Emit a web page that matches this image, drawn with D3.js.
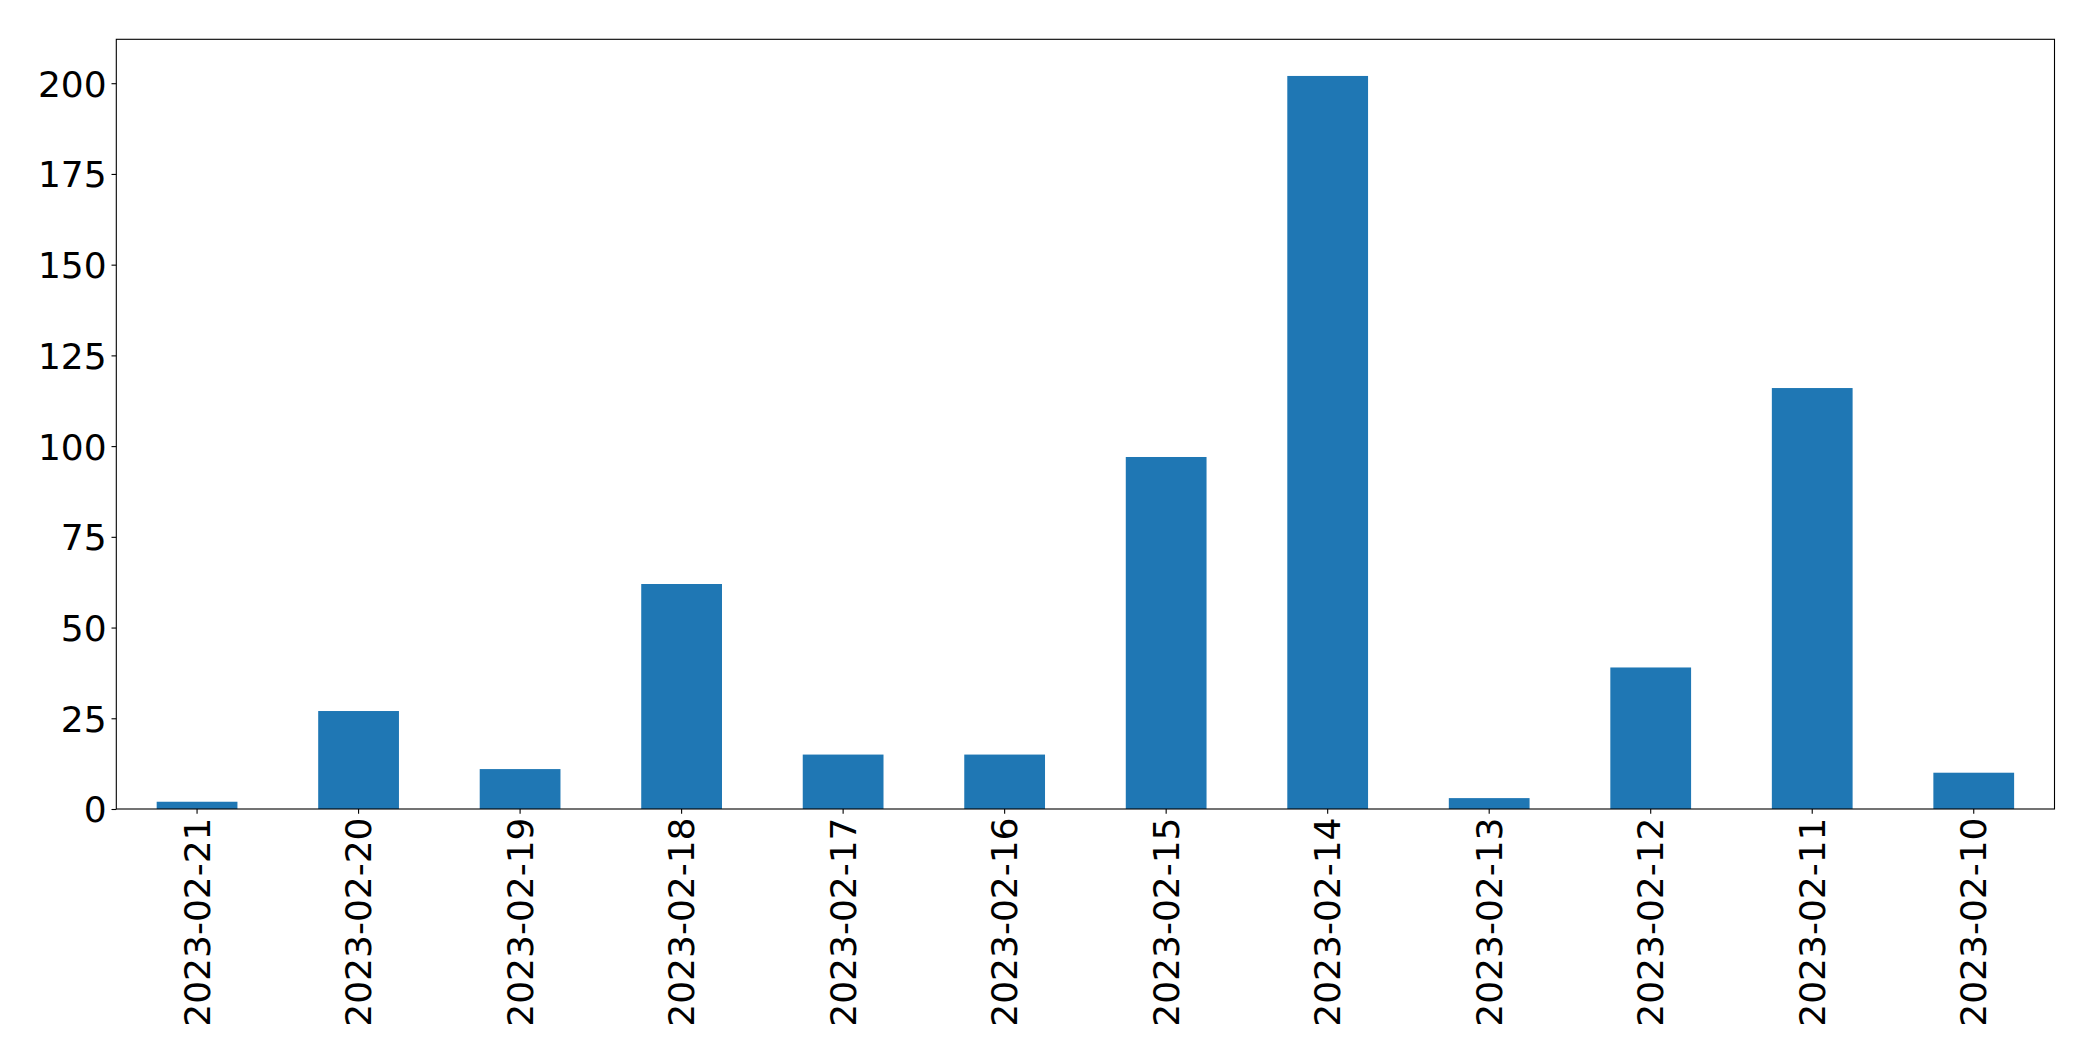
<!DOCTYPE html>
<html>
<head>
<meta charset="utf-8">
<script src="https://cdn.jsdelivr.net/npm/d3@7"></script>
<style>
  html, body { margin: 0; padding: 0; background: #fff; }
  svg { display: block; }
  text { font-family: "DejaVu Sans", sans-serif; }
</style>
</head>
<body>
<script>
const categories = ["2023-02-21","2023-02-20","2023-02-19","2023-02-18","2023-02-17","2023-02-16","2023-02-15","2023-02-14","2023-02-13","2023-02-12","2023-02-11","2023-02-10"];
const values = [2, 27, 11, 62, 15, 15, 97, 202, 3, 39, 116, 10];
const yTicks = [0, 25, 50, 75, 100, 125, 150, 175, 200];

const W = 2093, H = 1061;
const mLeft = 116.3, mRight = 2054.5, mTop = 39.3, mBottom = 809;
const fontSize = 36;

const svg = d3.select("body").append("svg").attr("width", W).attr("height", H);

const yMax = d3.max(values) * 1.05;
const y = d3.scaleLinear().domain([0, yMax]).range([mBottom, mTop]);
const x = d3.scaleBand().domain(categories).range([mLeft, mRight]).paddingInner(0.5).paddingOuter(0.25);

svg.append("g").selectAll("rect").data(values).join("rect")
  .attr("x", (d, i) => x(categories[i]))
  .attr("width", x.bandwidth())
  .attr("y", d => y(d))
  .attr("height", d => mBottom - y(d))
  .attr("fill", "#1f77b4");

// Y axis
const yAxis = d3.axisLeft(y).tickValues(yTicks).tickSize(4.8).tickPadding(4.9);
const gy = svg.append("g").attr("transform", `translate(${mLeft},0)`).call(yAxis);
gy.select(".domain").remove();
gy.selectAll(".tick line").attr("stroke", "#000").attr("stroke-width", 1.1);
gy.selectAll(".tick text").attr("font-size", fontSize).attr("fill", "#000")
  .attr("font-family", "DejaVu Sans").attr("dy", "0.36em");

// X axis
const xAxis = d3.axisBottom(x).tickSize(4.8).tickPadding(0);
const gx = svg.append("g").attr("transform", `translate(0,${mBottom})`).call(xAxis);
gx.select(".domain").remove();
gx.selectAll(".tick line").attr("stroke", "#000").attr("stroke-width", 1.1);
gx.selectAll(".tick text")
  .attr("font-size", fontSize).attr("fill", "#000").attr("font-family", "DejaVu Sans")
  .attr("text-anchor", "end")
  .attr("transform", "rotate(-90)")
  .attr("x", -8.5)
  .attr("y", 0)
  .attr("dy", "0.35em");

// Frame
svg.append("rect")
  .attr("x", mLeft).attr("y", mTop)
  .attr("width", mRight - mLeft).attr("height", mBottom - mTop)
  .attr("fill", "none").attr("stroke", "#000").attr("stroke-width", 1.1);
</script>
</body>
</html>
